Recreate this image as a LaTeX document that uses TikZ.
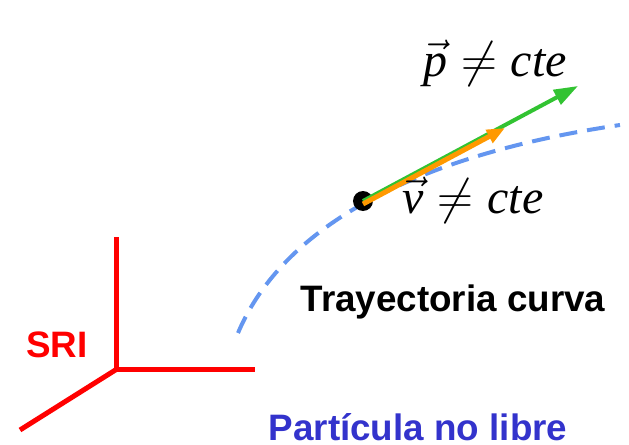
\documentclass[tikz,border=0pt]{standalone}
\usepackage{amsmath}
\usepackage{fontspec}
\setsansfont{Liberation Sans}
\newfontfamily\timesfont{Liberation Serif}
\usetikzlibrary{arrows.meta}
\definecolor{trajblue}{RGB}{100,150,240}
\definecolor{textblue}{RGB}{51,51,204}
\definecolor{momgreen}{RGB}{50,195,50}
\definecolor{velorange}{RGB}{255,153,0}
\newcommand{\ivar}[1]{\mbox{\timesfont\itshape #1}}
\tikzset{
  axis/.style={red, line width=2.5pt},
  lbl/.style={font=\sffamily\bfseries\fontsize{18.4}{20}\selectfont, inner sep=0pt},
  mathlbl/.style={font=\fontsize{24}{26}\selectfont, inner sep=0pt},
}

\begin{document}
\begin{tikzpicture}[x=0.5pt, y=-0.5pt]
  \useasboundingbox (0,0) rectangle (629,445);
  % Reference frame
  \coordinate (O) at (117,369);
  \coordinate (ex) at (255,369);
  \coordinate (ey) at (117,237);
  \coordinate (ez) at (20,430);
  \draw[axis] (ey) -- (O) -- (ex);
  \draw[axis] (O) -- (ez);
  \node[lbl, text=red] (sri) at (57,345) {SRI};
  % Curved trajectory
  \coordinate (tstart) at (238,333);
  \coordinate (tend) at (620,125);
  \draw[trajblue, line width=2pt, dash pattern=on 9pt off 5pt]
    (tstart) .. controls (290,210) and (450,150) .. (tend);
  % Particle with momentum and velocity
  \node[circle, fill, inner sep=0pt, minimum size=10pt] (part) at (363,201) {};
  \coordinate (ptip) at (578,86);
  \coordinate (vtip) at (505,128);
  \draw[momgreen, line width=2pt, -{Triangle[length=12pt,width=8pt]}] (part.center) -- (ptip);
  \draw[velorange, line width=2.5pt, -{Triangle[length=9pt,width=7pt]}]
    ([yshift=-1.5pt]part.center) -- (vtip);
  \node[mathlbl] (plbl) at (495,63) {$\vec{\ivar{p}} \neq \ivar{cte}$};
  \node[mathlbl] (vlbl) at (473,200) {$\vec{\ivar{v}} \neq \ivar{cte}$};
  % Captions
  \node[lbl] (curva) at (453,302) {Trayectoria curva};
  \node[lbl, text=textblue] (libre) at (418,427) {Partícula no libre};
\end{tikzpicture}
\end{document}
